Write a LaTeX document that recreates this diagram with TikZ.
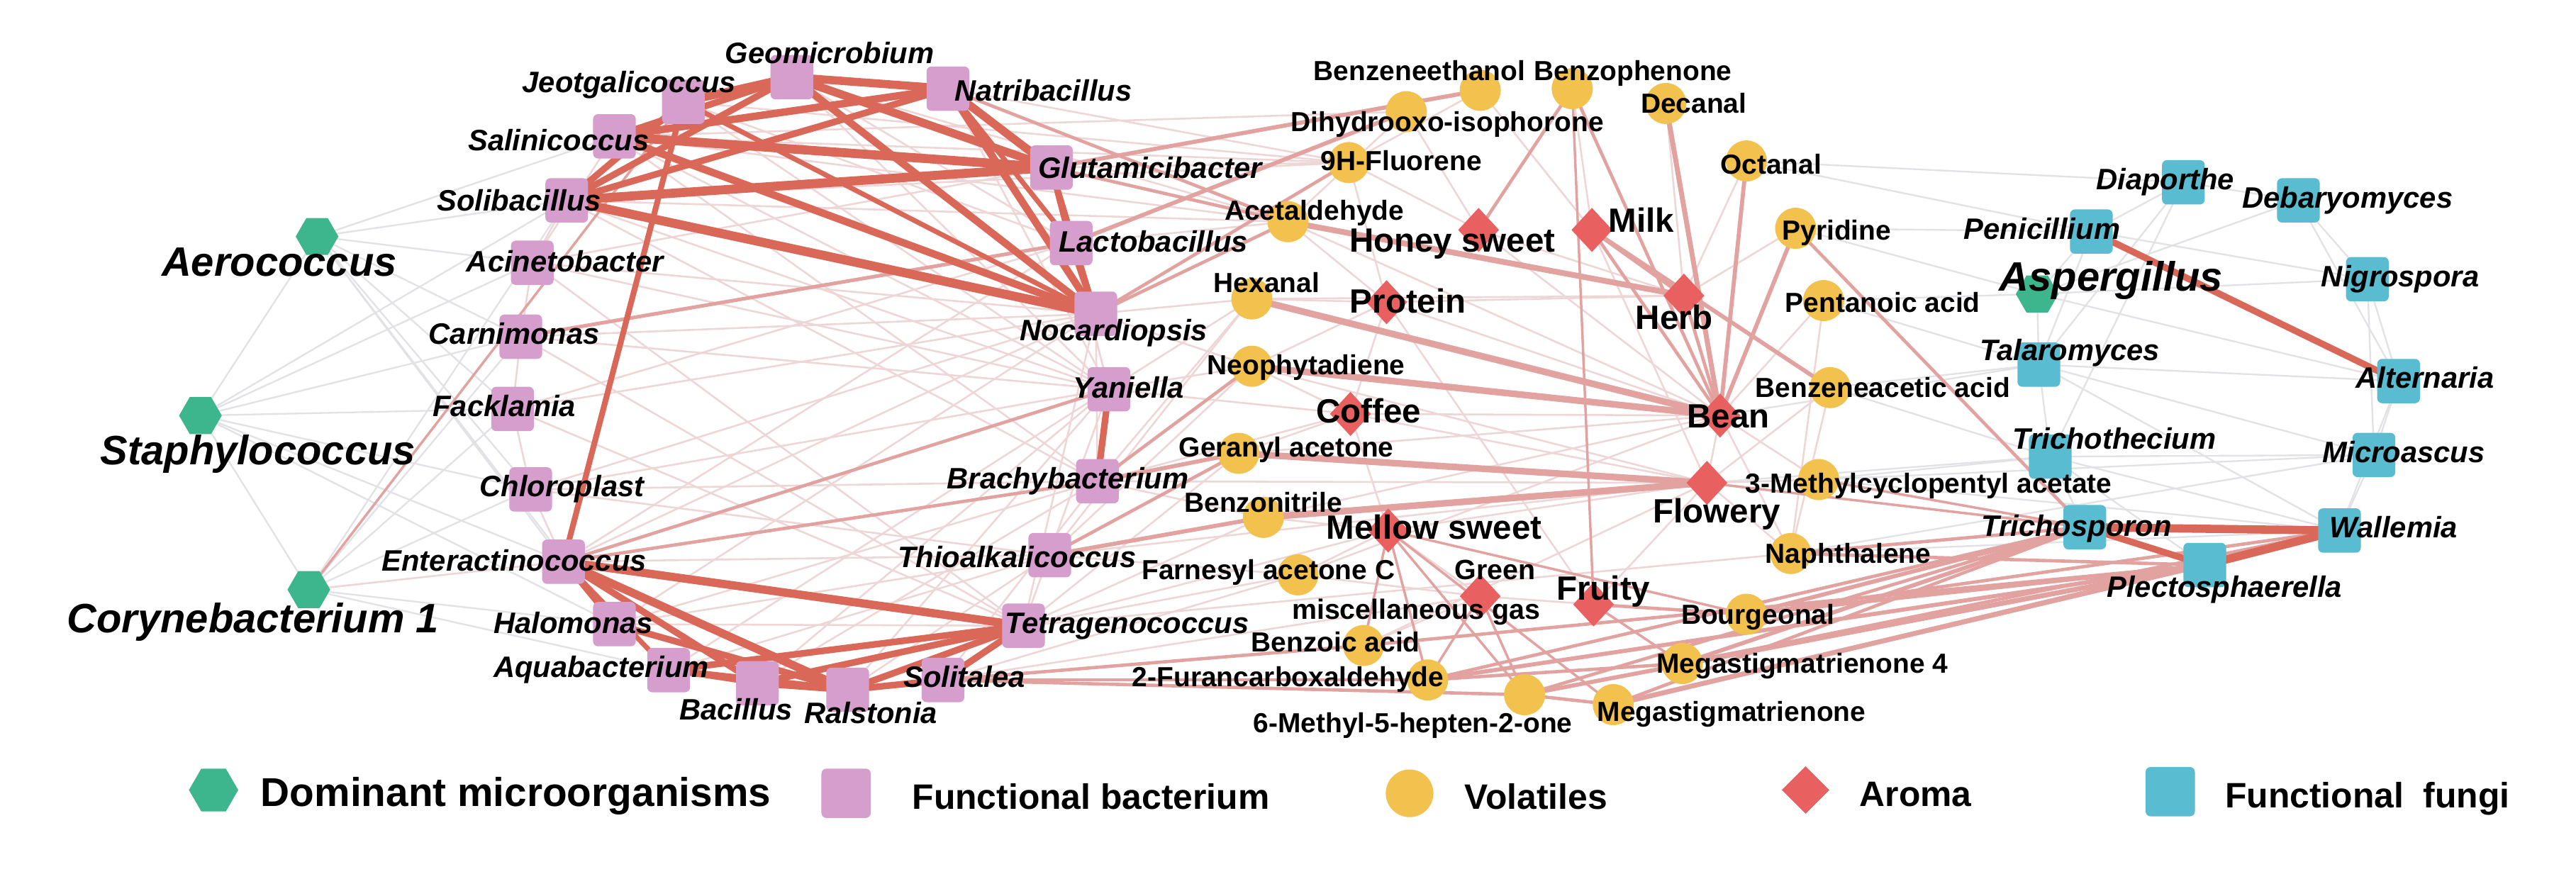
\documentclass[tikz,border=0pt]{standalone}
\usepackage{fontspec}
\setmainfont{Liberation Sans}
\usetikzlibrary{shapes.geometric}
\pgfdeclarelayer{bg}
\pgfdeclarelayer{fg}
\pgfsetlayers{bg,main,fg}
\definecolor{cgreen}{RGB}{61,181,141}
\definecolor{cpink}{RGB}{214,158,204}
\definecolor{cyel}{RGB}{242,193,78}
\definecolor{cred}{RGB}{233,96,96}
\definecolor{cteal}{RGB}{90,188,208}
\definecolor{ethick}{RGB}{217,104,88}
\definecolor{emed}{RGB}{226,162,160}
\definecolor{efaint}{RGB}{238,214,214}
\definecolor{egray}{RGB}{226,226,230}
\begin{document}
\begin{tikzpicture}[x=1pt,y=-1pt,
 hexn/.style={regular polygon, regular polygon sides=6, fill=cgreen, minimum size=26pt, inner sep=0pt},
 bsq/.style={rectangle, rounded corners=3pt, fill=cpink, minimum width=26pt, minimum height=27pt, inner sep=0pt},
 vc/.style={circle, fill=cyel, minimum size=25pt, inner sep=0pt},
 ad/.style={diamond, fill=cred, minimum width=25pt, minimum height=27pt, inner sep=0pt},
 fsq/.style={rectangle, rounded corners=3pt, fill=cteal, minimum width=26pt, minimum height=27pt, inner sep=0pt},
 lab/.style={inner sep=0pt, text height=12pt, text depth=0pt, font=\fontsize{16.8}{18}\selectfont\bfseries},
 ilab/.style={inner sep=0pt, text height=13pt, text depth=0pt, font=\fontsize{18}{20}\selectfont\bfseries\itshape},
 blab/.style={inner sep=0pt, text height=18pt, text depth=0pt, font=\fontsize{25}{28}\selectfont\bfseries\itshape},
 alab/.style={inner sep=0pt, text height=14.8pt, text depth=0pt, font=\fontsize{20.5}{22}\selectfont\bfseries},
 leg/.style={inner sep=0pt, text height=15.5pt, text depth=0pt, font=\fontsize{21.5}{24}\selectfont\bfseries},
 thk/.style={draw=ethick, line width=4pt},
 med/.style={draw=emed, line width=2.5pt},
 fnt/.style={draw=efaint, line width=1.1pt},
 gry/.style={draw=egray, line width=1pt},
]
\useasboundingbox (0,0) rectangle (1568,535);

% ---------- dominant ----------
\node[hexn] (aero) at (193,144) {};
\node[hexn] (staph) at (122,253) {};
\node[hexn] (coryn) at (188,359) {};
\node[hexn] (asper) at (1240,179) {};
% ---------- bacteria ----------
\node[bsq] (geo) at (482,47) {};
\node[bsq] (jeot) at (416,62) {};
\node[bsq] (nat) at (577,54) {};
\node[bsq] (sal) at (374,83) {};
\node[bsq] (sol) at (345,122) {};
\node[bsq] (glu) at (640,102) {};
\node[bsq] (aci) at (324,160) {};
\node[bsq] (lac) at (652,148) {};
\node[bsq] (car) at (317,205) {};
\node[bsq] (noc) at (667,191) {};
\node[bsq] (fack) at (312,249) {};
\node[bsq] (yan) at (675,237) {};
\node[bsq] (chl) at (323,298) {};
\node[bsq] (brach) at (668,293) {};
\node[bsq] (ent) at (343,342) {};
\node[bsq] (thio) at (639,338) {};
\node[bsq] (halo) at (374,380) {};
\node[bsq] (tetra) at (623,381) {};
\node[bsq] (aqua) at (407,408) {};
\node[bsq] (bac) at (461,416) {};
\node[bsq] (ral) at (516,420) {};
\node[bsq] (soli) at (574,414) {};
% ---------- volatiles ----------
\node[vc] (bzeth) at (901,55) {};
\node[vc] (dihy) at (856,68) {};
\node[vc] (bzph) at (957,54) {};
\node[vc] (dec) at (1014,63) {};
\node[vc] (flu) at (821,99) {};
\node[vc] (oct) at (1063,98) {};
\node[vc] (acet) at (784,135) {};
\node[vc] (pyr) at (1093,139) {};
\node[vc] (hexa) at (762,182) {};
\node[vc] (pent) at (1110,183) {};
\node[vc] (neo) at (762,223) {};
\node[vc] (bzac) at (1114,236) {};
\node[vc] (ger) at (754,276) {};
\node[vc] (mcpa) at (1107,292) {};
\node[vc] (bznit) at (769,315) {};
\node[vc] (naph) at (1090,337) {};
\node[vc] (farn) at (790,350) {};
\node[vc] (bourg) at (1063,374) {};
\node[vc] (bzoic) at (830,393) {};
\node[vc] (meg4) at (1024,404) {};
\node[vc] (fur) at (869,414) {};
\node[vc] (mhep) at (928,423) {};
\node[vc] (meg) at (982,429) {};
% ---------- aroma ----------
\node[ad] (honey) at (900,140) {};
\node[ad] (milk) at (969,140) {};
\node[ad] (prot) at (844,184) {};
\node[ad] (herb) at (1025,180) {};
\node[ad] (coffee) at (822,252) {};
\node[ad] (bean) at (1047,253) {};
\node[ad] (flow) at (1039,294) {};
\node[ad] (mellow) at (845,323) {};
\node[ad] (green) at (901,363) {};
\node[ad] (fruity) at (970,368) {};
% ---------- fungi ----------
\node[fsq] (diap) at (1329,111) {};
\node[fsq] (debar) at (1399,122) {};
\node[fsq] (peni) at (1273,141) {};
\node[fsq] (nigro) at (1441,170) {};
\node[fsq] (talar) at (1241,222) {};
\node[fsq] (alter) at (1460,232) {};
\node[fsq] (trichot) at (1248,278) {};
\node[fsq] (micro) at (1445,277) {};
\node[fsq] (trichos) at (1269,321) {};
\node[fsq] (wall) at (1424,323) {};
\node[fsq] (plect) at (1342,344) {};

% ---------- edges ----------
\begin{pgfonlayer}{bg}
\fill[white] (0,0) rectangle (1568,535);
% gray / faint edges
\foreach \a/\b in {aero/staph,staph/coryn,aero/sol,aero/aci,aero/car,aero/fack,aero/chl,aero/ent,aero/sal,aero/halo,
 staph/fack,staph/car,staph/aci,staph/chl,staph/ent,staph/halo,staph/sol,coryn/halo,coryn/aqua,coryn/chl,coryn/fack,coryn/car,coryn/sol,
 diap/peni,diap/debar,debar/nigro,peni/nigro,peni/talar,peni/asper,asper/talar,asper/alter,asper/nigro,talar/trichot,talar/alter,
 talar/micro,trichot/micro,trichot/wall,trichot/trichos,micro/wall,micro/alter,nigro/alter,nigro/micro,debar/alter,diap/trichot,
 diap/talar,alter/wall,trichot/plect,talar/wall,pyr/peni,oct/peni,pent/talar,bzac/talar,bzac/trichot,mcpa/trichot,mcpa/wall,
 naph/wall,mcpa/micro,pyr/asper,debar/asper,oct/diap,pent/asper,naph/micro,bean/talar,flow/trichot}
 \draw[gry] (\a.center) -- (\b.center);
\foreach \a/\b in {sal/acet,sol/acet,sol/flu,sal/dihy,aci/noc,aci/yan,aci/glu,car/yan,car/noc,fack/noc,fack/lac,chl/yan,chl/brach,
 chl/thio,chl/noc,fack/tetra,aci/tetra,car/tetra,halo/thio,halo/brach,aqua/thio,bac/brach,bac/yan,ral/yan,ral/thio,soli/brach,
 tetra/yan,tetra/noc,sol/yan,sal/yan,sal/brach,sol/brach,jeot/yan,jeot/lac,geo/yan,geo/lac,nat/yan,glu/yan,lac/yan,noc/brach,
 aci/sol,aci/sal,car/aci,fack/car,chl/fack,ent/chl,ent/noc,ent/lac,halo/noc,thio/hexa,thio/neo,brach/hexa,yan/neo,yan/hexa,
 noc/neo,tetra/ger,tetra/bznit,soli/farn,tetra/farn,thio/farn,brach/bznit,honey/bean,prot/bean,prot/herb,coffee/bean,
 coffee/flow,mellow/flow,bzoic/flow,farn/bean,bznit/bean,hexa/herb,acet/bean,prot/fruity,flu/honey,dihy/honey,bzeth/milk,
 flu/prot,acet/prot,hexa/prot,neo/prot,neo/coffee,ger/coffee,bznit/mellow,farn/mellow,mellow/green,green/fruity,fruity/flow,
 bean/flow,bean/naph,flow/naph,flow/mcpa,bean/mcpa,bzac/flow,pent/bean,pyr/herb,oct/herb,dec/herb,tetra/naph,thio/flow,
 brach/flow,halo/tetra,aqua/yan,ent/thio,coryn/ent,sal/flu,geo/acet,nat/flu,jeot/flu,yan/coffee,brach/coffee,noc/hexa,
 lac/acet,glu/flu,coffee/mellow,ger/bean,neo/flow,farn/green,bzoic/green,prot/coffee,honey/herb,milk/flow,bzac/naph,
 pent/naph,bzph/milk,dihy/acet,bzeth/flu,tetra/mellow,soli/green}
 \draw[fnt] (\a.center) -- (\b.center);
% medium pink edges
\foreach \a/\b/\w in {acet/herb/3.5,hexa/bean/4,neo/bean/4,ger/flow/4,bznit/flow/4,milk/herb/2.5,milk/bean/2,milk/bzac/2.5,
 dec/bean/3,oct/bean/2.5,pyr/bean/2.5,bzph/honey/2,bzph/fruity/1.5,bzph/bean/2,herb/bean/2,pyr/trichos/2,
 glu/bzeth/2.5,lac/dihy/2.5,noc/flu/2,nat/acet/2,glu/acet/2,noc/acet/2,car/lac/2.2,ent/yan/2,ent/brach/2,coryn/jeot/1.5,
 soli/bzoic/2,soli/mhep/2,soli/fur/1.5,thio/bznit/2.5,thio/ger/2,brach/ger/2.5,brach/neo/2,
 plect/meg/3,plect/meg4/3,plect/bourg/2.5,plect/fur/2.5,plect/mhep/2.5,plect/bzoic/2,plect/naph/2,
 trichos/meg4/2.5,trichos/bourg/2.5,trichos/naph/2,trichos/fur/2,trichos/mhep/2,trichos/meg/2,
 wall/meg4/2,wall/bourg/2,wall/meg/1.5,trichos/flow/1.5,trichos/mcpa/1.5,
 mellow/meg/1.5,mellow/mhep/1.5,mellow/fur/1.5,mellow/bourg/1.5,green/fur/1.5,green/mhep/1.5,fruity/bourg/2,fruity/meg4/1.5,
 mellow/bzoic/1.5,fur/meg4/2,mhep/meg/2}
 \draw[med, line width=\w pt] (\a.center) -- (\b.center);
% thick dark edges
\foreach \a/\b/\w in {geo/nat/5,geo/glu/5,geo/noc/4.5,geo/jeot/5,geo/sol/4,geo/sal/4,nat/sal/4.5,nat/sol/4,nat/glu/5,nat/noc/4.5,
 nat/lac/3,sal/glu/5.5,sol/glu/5.5,sal/noc/4.5,sol/noc/5.5,glu/lac/4,lac/noc/4,glu/noc/3,jeot/ent/3.5,jeot/sol/4,jeot/noc/3,
 yan/brach/4,ent/tetra/5,ent/ral/5,ent/bac/4,ent/halo/3,ent/aqua/3,halo/ral/4,aqua/tetra/4,bac/tetra/4,aqua/ral/4,bac/ral/4,
 ral/tetra/4,ral/soli/4,soli/tetra/4,aqua/bac/3,peni/alter/4,trichos/wall/5,trichos/plect/4,plect/wall/5}
 \draw[thk, line width=\w pt] (\a.center) -- (\b.center);
\end{pgfonlayer}

% ---------- labels ----------
\begin{pgfonlayer}{fg}
\node[blab] (l-aero) at (170,159) {Aerococcus};
\node[blab] (l-staph) at (157,274) {Staphylococcus};
\node[blab] (l-coryn) at (154,376) {Corynebacterium 1};
\node[blab] (l-asper) at (1285,168) {Aspergillus};

\node[ilab] (l-geo) at (505,32) {Geomicrobium};
\node[ilab] (l-jeot) at (383,50) {Jeotgalicoccus};
\node[ilab] (l-nat) at (635,55) {Natribacillus};
\node[ilab] (l-sal) at (340,85) {Salinicoccus};
\node[ilab] (l-sol) at (316,122) {Solibacillus};
\node[ilab] (l-glu) at (700,102) {Glutamicibacter};
\node[ilab] (l-aci) at (344,159) {Acinetobacter};
\node[ilab] (l-lac) at (702,147) {Lactobacillus};
\node[ilab] (l-car) at (313,203) {Carnimonas};
\node[ilab] (l-noc) at (678,201) {Nocardiopsis};
\node[ilab] (l-fack) at (307,247) {Facklamia};
\node[ilab] (l-yan) at (687,236) {Yaniella};
\node[ilab] (l-chl) at (342,296) {Chloroplast};
\node[ilab] (l-brach) at (650,291) {Brachybacterium};
\node[ilab] (l-ent) at (313,341) {Enteractinococcus};
\node[ilab] (l-thio) at (619,339) {Thioalkalicoccus};
\node[ilab] (l-halo) at (349,379) {Halomonas};
\node[ilab] (l-tetra) at (686,379) {Tetragenococcus};
\node[ilab] (l-aqua) at (366,406) {Aquabacterium};
\node[ilab] (l-bac) at (448,432) {Bacillus};
\node[ilab] (l-ral) at (530,434) {Ralstonia};
\node[ilab] (l-soli) at (587,412) {Solitalea};

\node[lab] (l-bzeth) at (864,43) {Benzeneethanol};
\node[lab] (l-dihy) at (881,74) {Dihydrooxo-isophorone};
\node[lab] (l-bzph) at (994,43) {Benzophenone};
\node[lab] (l-dec) at (1031,63) {Decanal};
\node[lab] (l-flu) at (853,98) {9H-Fluorene};
\node[lab] (l-oct) at (1078,100) {Octanal};
\node[lab] (l-acet) at (800,128) {Acetaldehyde};
\node[lab] (l-pyr) at (1118,140) {Pyridine};
\node[lab] (l-hexa) at (771,172) {Hexanal};
\node[lab] (l-pent) at (1146,184) {Pentanoic acid};
\node[lab] (l-neo) at (795,222) {Neophytadiene};
\node[lab] (l-bzac) at (1146,236) {Benzeneacetic acid};
\node[lab] (l-ger) at (783,272) {Geranyl acetone};
\node[lab] (l-mcpa) at (1174,294) {3-Methylcyclopentyl acetate};
\node[lab] (l-bznit) at (769,306) {Benzonitrile};
\node[lab] (l-naph) at (1125,337) {Naphthalene};
\node[lab] (l-farn) at (772,347) {Farnesyl acetone C};
\node[lab] (l-bourg) at (1070,374) {Bourgeonal};
\node[lab] (l-bzoic) at (813,391) {Benzoic acid};
\node[lab] (l-meg4) at (1097,404) {Megastigmatrienone 4};
\node[lab] (l-fur) at (784,412) {2-Furancarboxaldehyde};
\node[lab] (l-mhep) at (860,440) {6-Methyl-5-hepten-2-one};
\node[lab] (l-meg) at (1054,433) {Megastigmatrienone};

\node[alab] (l-honey) at (884,146) {Honey sweet};
\node[alab] (l-milk) at (999,134) {Milk};
\node[alab] (l-prot) at (857,183) {Protein};
\node[alab] (l-herb) at (1019,193) {Herb};
\node[alab] (l-coffee) at (833,250) {Coffee};
\node[alab] (l-bean) at (1052,253) {Bean};
\node[alab] (l-flow) at (1045,311) {Flowery};
\node[alab] (l-mellow) at (873,321) {Mellow sweet};
\node[lab, font=\fontsize{17}{19}\selectfont\bfseries] (l-green) at (910,347) {Green};
\node[lab, font=\fontsize{17}{19}\selectfont\bfseries] (l-misc) at (862,371) {miscellaneous gas};
\node[alab] (l-fruity) at (976,358) {Fruity};

\node[ilab] (l-diap) at (1318,109) {Diaporthe};
\node[ilab] (l-debar) at (1429,120) {Debaryomyces};
\node[ilab] (l-peni) at (1243,139) {Penicillium};
\node[ilab] (l-nigro) at (1461,168) {Nigrospora};
\node[ilab] (l-talar) at (1260,213) {Talaromyces};
\node[ilab] (l-alter) at (1476,230) {Alternaria};
\node[ilab] (l-trichot) at (1287,267) {Trichothecium};
\node[ilab] (l-micro) at (1463,275) {Microascus};
\node[ilab] (l-trichos) at (1264,320) {Trichosporon};
\node[ilab] (l-wall) at (1457,321) {Wallemia};
\node[ilab] (l-plect) at (1354,357) {Plectosphaerella};
\end{pgfonlayer}

% ---------- legend ----------
\node[hexn, minimum size=30pt] (k1) at (130,481) {};
\node[leg, font=\fontsize{24.5}{27}\selectfont\bfseries, text height=17.5pt] (t1) at (314,482) {Dominant microorganisms};
\node[bsq, minimum width=30pt, minimum height=30pt] (k2) at (515,483) {};
\node[leg] (t2) at (664,485) {Functional bacterium};
\node[vc, minimum size=29pt] (k3) at (858,483) {};
\node[leg] (t3) at (935,485) {Volatiles};
\node[ad, minimum width=29pt, minimum height=29pt] (k4) at (1099,481) {};
\node[leg] (t4) at (1166,483) {Aroma};
\node[fsq, minimum width=30pt, minimum height=30pt] (k5) at (1321,482) {};
\node[leg] (t5) at (1441,484) {Functional\ \ fungi};
\end{tikzpicture}
\end{document}
